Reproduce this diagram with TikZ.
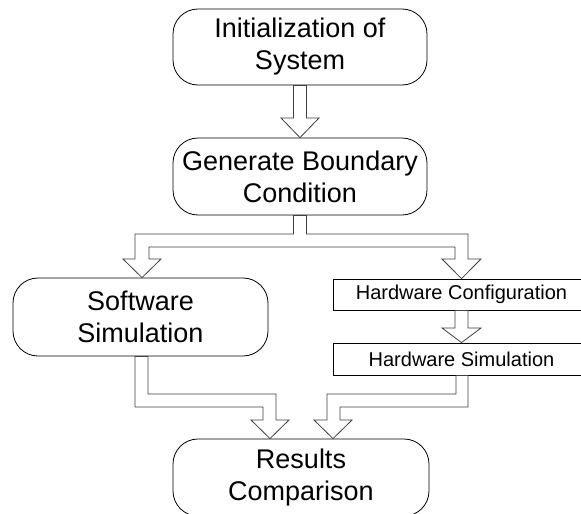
\documentclass[tikz,border=0pt]{standalone}
\usepackage{fontspec}
\setmainfont{Liberation Sans}
\begin{document}
\begin{tikzpicture}[x=1pt,y=-1pt,
  rbox/.style={draw=black, line width=0.8pt, rounded corners=25pt, fill=white,
    align=center, inner sep=0pt, font=\fontsize{27}{32}\selectfont},
  sbox/.style={draw=black, line width=0.8pt, fill=white,
    inner sep=0pt, font=\fontsize{20}{24}\selectfont},
  blk/.style={draw=black!75, line width=0.8pt, fill=white, line join=miter}]
\useasboundingbox (0,0) rectangle (581,514);
\clip (0,0) rectangle (581,514);
\fill[white] (0,0) rectangle (581,514);

% process boxes
\node[rbox, minimum width=254pt, minimum height=76pt] (init) at (300,47) {Initialization of\\System};
\node[rbox, minimum width=254pt, minimum height=77pt] (gen) at (300,176.5) {Generate Boundary\\Condition};
\node[rbox, minimum width=255pt, minimum height=78pt] (sw) at (140.5,317) {Software\\Simulation};
\node[sbox, minimum width=257pt, minimum height=31pt] (hwc) at (461.5,294.5) {Hardware Configuration};
\node[sbox, minimum width=257pt, minimum height=32pt] (hws) at (461.5,359) {Hardware Simulation};
\node[rbox, minimum width=256pt, minimum height=77pt] (res) at (301,477.5) {Results\\Comparison};

% hollow block arrows
\draw[blk] ([xshift=-6.5pt]init.south) -- (293.5,118) -- (281,118) -- (gen.north)
  -- (319,118) -- (306.5,118) -- ([xshift=6.5pt]init.south) -- cycle;

\draw[blk] ([xshift=-6.5pt]gen.south) -- (293.5,234) -- (135,234) -- (135,259) -- (123,259)
  -- ([xshift=1.5pt]sw.north) -- (161,259) -- (149,259) -- (149,247) -- (455,247)
  -- (455,259) -- (442,259) -- (hwc.north) -- (481,259) -- (468,259) -- (468,234)
  -- (306.5,234) -- ([xshift=6.5pt]gen.south) -- cycle;

\draw[blk] ([xshift=-6.5pt]hwc.south) -- (455,328) -- (442,328) -- (hws.north)
  -- (481,328) -- (468,328) -- ([xshift=6.5pt]hwc.south) -- cycle;

\draw[blk] ([xshift=-5.5pt]sw.south) -- (135,407) -- (263,407) -- (263,420) -- (251,420)
  -- ([xshift=-31pt]res.north) -- (289,420) -- (276,420) -- (276,394) -- (148,394)
  -- ([xshift=7.5pt]sw.south) -- cycle;

\draw[blk] ([xshift=-5.5pt]hws.south) -- (456,394) -- (327,394) -- (327,420) -- (314,420)
  -- ([xshift=32pt]res.north) -- (352,420) -- (340,420) -- (340,407) -- (468,407)
  -- ([xshift=6.5pt]hws.south) -- cycle;
\end{tikzpicture}
\end{document}
